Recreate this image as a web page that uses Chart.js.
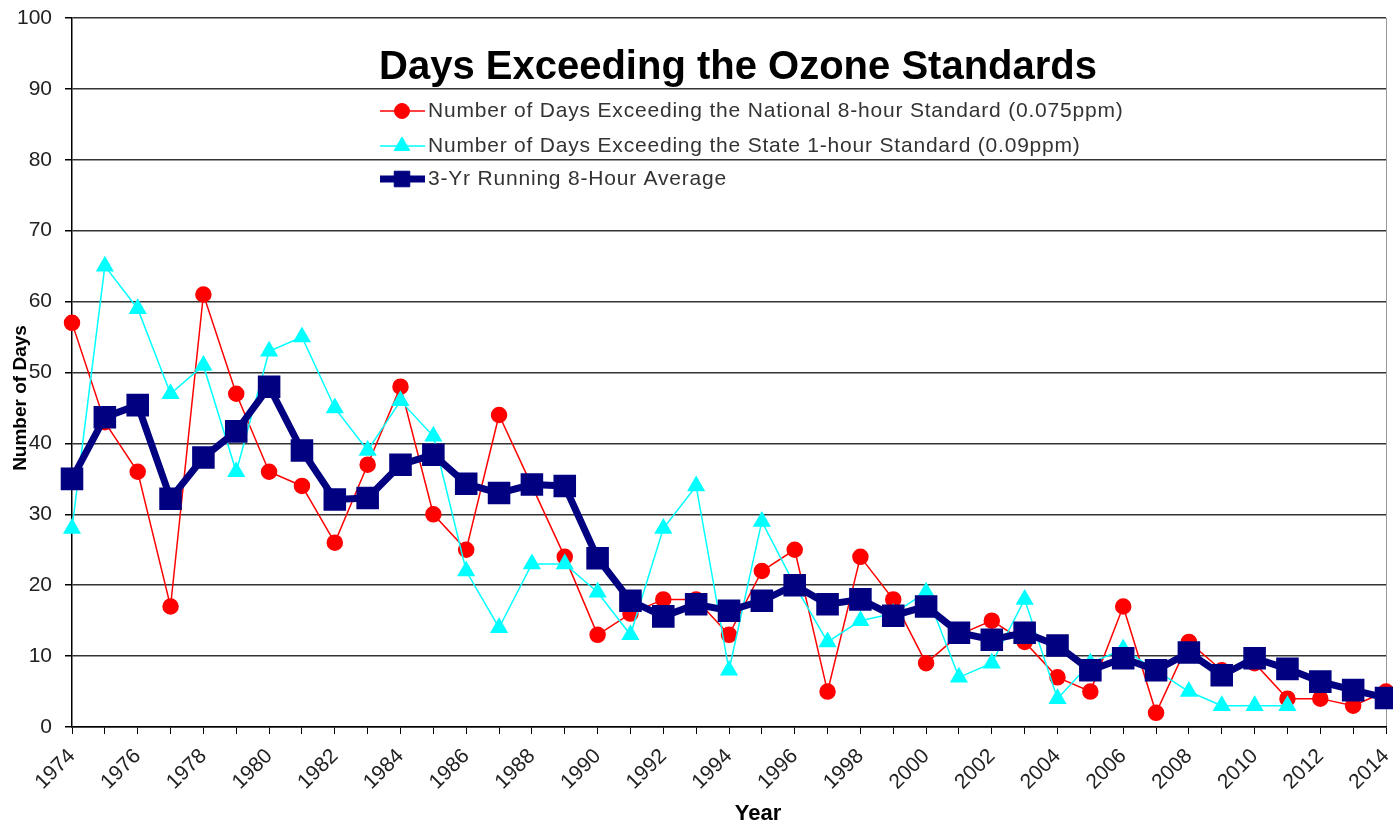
<!DOCTYPE html>
<html>
<head>
<meta charset="utf-8">
<title>Days Exceeding the Ozone Standards</title>
<script src="https://cdn.jsdelivr.net/npm/chart.js@4.4.1/dist/chart.umd.min.js"></script>
<style>
  html, body { margin: 0; padding: 0; background: #fff; }
  canvas { display: block; }
</style>
</head>
<body>
<canvas id="ozoneChart" width="1393" height="826"></canvas>
<script>
// years on the x axis
var years = ['1974','1975','1976','1977','1978','1979','1980','1981','1982','1983',
             '1984','1985','1986','1987','1988','1989','1990','1991','1992','1993',
             '1994','1995','1996','1997','1998','1999','2000','2001','2002','2003',
             '2004','2005','2006','2007','2008','2009','2010','2011','2012','2013','2014'];

// national 8-hour standard (0.075ppm)
var nationalDays = [57, 43, 36, 17, 61, 47, 36, 34, 26, 37,
                    48, 30, 25, 44, 34, 24, 13, 16, 18, 18,
                    13, 22, 25, 5, 24, 18, 9, 13, 15, 12,
                    7, 5, 17, 2, 12, 8, 9, 4, 4, 3, 5];

// state 1-hour standard (0.09ppm), no values after 2011
var stateDays = [28, 65, 59, 47, 51, 36, 53, 55, 45, 39,
                 46, 41, 22, 14, 23, 23, 19, 13, 28, 34,
                 8, 29, 20, 12, 15, 16, 19, 7, 9, 18,
                 4, 9, 11, 8, 5, 3, 3, 3, null, null, null];

// 3-yr running 8-hour average
var runningAvg = [35, 43.7, 45.4, 32.2, 38, 41.7, 48, 39, 32.1, 32.3,
                  37, 38.4, 34.3, 33, 34.2, 34, 23.8, 17.8, 15.6, 17.3,
                  16.4, 17.8, 20, 17.3, 18, 15.7, 17, 13.3, 12.3, 13.3,
                  11.5, 8, 9.7, 8, 10.5, 7.3, 9.7, 8.2, 6.4, 5.2, 4.1];

var seriesNames = ['Number of Days Exceeding the National 8-hour Standard (0.075ppm)',
                   'Number of Days Exceeding the State 1-hour Standard (0.09ppm)',
                   '3-Yr Running 8-Hour Average'];

var chartTitle = 'Days Exceeding the Ozone Standards';
var yTitle = 'Number of Days';
var xTitle = 'Year';

var FONT = '"Liberation Sans", Arial, sans-serif';

// title, legend and axis titles sit where Excel put them
var decorPlugin = {
    id: 'decor',
    afterDraw: function(chart) {
        var ctx = chart.ctx;
        ctx.save();

        ctx.fillStyle = '#000';
        ctx.font = 'bold 40px ' + FONT;
        ctx.textAlign = 'center';
        ctx.textBaseline = 'middle';
        ctx.fillText(chartTitle, 738, 68);

        var rowY = [111, 146, 179];
        chart.data.datasets.forEach(function(ds, i) {
            var y = rowY[i];
            ctx.strokeStyle = ds.borderColor;
            ctx.lineWidth = ds.borderWidth;
            ctx.beginPath();
            ctx.moveTo(380, y);
            ctx.lineTo(425, y);
            ctx.stroke();
            ctx.fillStyle = ds.pointBackgroundColor;
            ctx.strokeStyle = ds.pointBorderColor;
            ctx.lineWidth = 1;
            Chart.helpers.drawPoint(ctx, {
                pointStyle: ds.pointStyle,
                radius: ds.pointRadius,
                rotation: 0,
                borderWidth: 1
            }, 402, y);
            ctx.fillStyle = '#333';
            ctx.font = '21px ' + FONT;
            ctx.letterSpacing = '0.8px';
            ctx.textAlign = 'left';
            ctx.textBaseline = 'middle';
            ctx.fillText(ds.label, 428, y);
            ctx.letterSpacing = '0px';
        });

        ctx.fillStyle = '#000';
        ctx.font = 'bold 19px ' + FONT;
        ctx.textAlign = 'center';
        ctx.textBaseline = 'middle';
        ctx.translate(21, 398);
        ctx.rotate(-Math.PI / 2);
        ctx.fillText(yTitle, 0, 0);
        ctx.setTransform(1, 0, 0, 1, 0, 0);

        ctx.font = 'bold 22px ' + FONT;
        ctx.fillText(xTitle, 758, 814);
        ctx.restore();
    }
};

var ctx = document.getElementById('ozoneChart').getContext('2d');
var lastIdx = years.length - 1;

var ozoneChart = new Chart(ctx, {
    type: 'line',
    data: {
        labels: years,
        datasets: [{
            label: seriesNames[0],
            data: nationalDays,
            borderColor: '#FF0000',
            backgroundColor: '#FF0000',
            pointBackgroundColor: '#FF0000',
            pointBorderColor: '#FF0000',
            borderWidth: 1.5,
            pointStyle: 'circle',
            pointRadius: 7.5,
            tension: 0,
            clip: false,
            order: 3
        }, {
            label: seriesNames[1],
            data: stateDays,
            borderColor: '#00FFFF',
            backgroundColor: '#00FFFF',
            pointBackgroundColor: '#00FFFF',
            pointBorderColor: '#00FFFF',
            borderWidth: 1.5,
            pointStyle: 'triangle',
            pointRadius: 9,
            tension: 0,
            clip: false,
            order: 2
        }, {
            label: seriesNames[2],
            data: runningAvg,
            borderColor: '#000080',
            backgroundColor: '#000080',
            pointBackgroundColor: '#000080',
            pointBorderColor: '#000080',
            borderWidth: 7,
            pointStyle: 'rect',
            pointRadius: 11,
            tension: 0,
            clip: false,
            order: 1
        }]
    },
    options: {
        responsive: false,
        animation: false,
        devicePixelRatio: 1,
        layout: { autoPadding: false, padding: { left: 0, right: 7, top: 18, bottom: 0 } },
        plugins: {
            legend: { display: false },
            title: { display: false },
            tooltip: { enabled: false }
        },
        elements: { point: { borderWidth: 1, hoverRadius: 0 } },
        scales: {
            x: {
                type: 'category',
                offset: false,
                afterFit: function(scale) {
                    scale.height = 99;
                    scale.paddingLeft = 0;
                    scale.paddingRight = 0;
                },
                border: { display: true, color: '#000', width: 1.5 },
                grid: {
                    drawOnChartArea: true,
                    color: function(c) { return c.index === lastIdx ? '#999' : 'rgba(0,0,0,0)'; },
                    tickColor: '#000',
                    tickLength: 7,
                    lineWidth: 1
                },
                ticks: {
                    autoSkip: false,
                    maxRotation: 45,
                    minRotation: 45,
                    padding: 10,
                    color: '#222',
                    font: { family: FONT, size: 21 },
                    callback: function(v, i) { return i % 2 === 0 ? years[i] : ''; }
                }
            },
            y: {
                min: 0,
                max: 100,
                afterFit: function(scale) {
                    scale.width = 72;
                    scale.paddingTop = 0;
                    scale.paddingBottom = 0;
                },
                border: { display: true, color: '#000', width: 1.5 },
                grid: {
                    color: '#333',
                    lineWidth: 1.5,
                    tickColor: '#000',
                    tickLength: 7
                },
                ticks: {
                    stepSize: 10,
                    padding: 13,
                    color: '#222',
                    font: { family: FONT, size: 21 }
                }
            }
        }
    },
    plugins: [decorPlugin]
});
</script>
</body>
</html>
